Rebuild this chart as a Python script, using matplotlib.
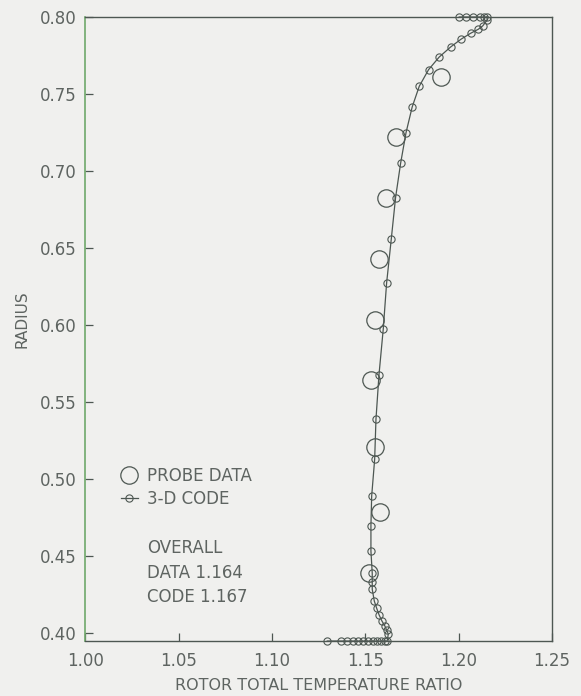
import matplotlib
matplotlib.use("Agg")
import matplotlib.pyplot as plt
from matplotlib.lines import Line2D

# Probe data (large circles)
probe_ratio = [1.1905, 1.1664, 1.1609, 1.1571, 1.1551, 1.1530, 1.1551, 1.1578, 1.1519]
probe_radius = [0.7608, 0.7218, 0.6822, 0.6427, 0.6031, 0.5641, 0.5203, 0.4785, 0.4385]

# 3-D code results (small circles + line), hub to tip
code_ratio = [1.1296, 1.1368, 1.1400, 1.1432, 1.1459, 1.1489, 1.1516, 1.1539, 1.1561, 1.1582, 1.1603, 1.1617,
              1.1623, 1.1614, 1.1605, 1.1589, 1.1574, 1.1561, 1.1548, 1.1537, 1.1537, 1.1537,
              1.1530, 1.1530, 1.1534, 1.1550, 1.1557, 1.1573, 1.1596, 1.1614, 1.1639, 1.1662,
              1.1689, 1.1718, 1.1751, 1.1789, 1.1839, 1.1896, 1.1957, 1.2012, 1.2064, 1.2105,
              1.2129, 1.2153, 1.2152, 1.2136, 1.2114, 1.2078, 1.2039, 1.2003]
code_radius = [0.3945, 0.3945, 0.3945, 0.3945, 0.3945, 0.3945, 0.3945, 0.3945, 0.3945, 0.3945, 0.3945, 0.3945,
               0.3990, 0.4016, 0.4042, 0.4075, 0.4114, 0.4157, 0.4205, 0.4281, 0.4330, 0.4385,
               0.4530, 0.4694, 0.4887, 0.5126, 0.5386, 0.5673, 0.5972, 0.6271, 0.6557, 0.6826,
               0.7049, 0.7248, 0.7415, 0.7550, 0.7658, 0.7740, 0.7805, 0.7855, 0.7894, 0.7920,
               0.7942, 0.7980, 0.8000, 0.8000, 0.8000, 0.8000, 0.8000, 0.8000]

xticks = [1.00, 1.05, 1.10, 1.15, 1.20, 1.25]
yticks = [0.40, 0.45, 0.50, 0.55, 0.60, 0.65, 0.70, 0.75, 0.80]
notes = ["OVERALL", "DATA 1.164", "CODE 1.167"]

bg = "#f0f0ee"
ink = "#4d5752"
txt = "#5e6461"
fs = 12

plt.rcParams['font.family'] = ['DejaVu Sans']
fig = plt.figure(figsize=(5.81, 6.96), dpi=100, facecolor=bg)
ax = fig.add_axes([0.147, 0.079, 0.803, 0.8966])
ax.set_facecolor(bg)

ax.plot(code_ratio, code_radius, color=ink, lw=0.9, marker='o', ms=5.2, mfc='none',
        mec=ink, mew=0.8, clip_on=False, zorder=3)
ax.plot(probe_ratio, probe_radius, ls='none', marker='o', ms=12.5, mfc='none',
        mec=ink, mew=0.9, clip_on=False, zorder=4)

ax.set_xlim(1.00, 1.25)
ax.set_ylim(0.3945, 0.80)
ax.set_xticks(xticks)
ax.set_xticklabels([f"{v:.2f}" for v in xticks])
ax.set_yticks(yticks)
ax.set_yticklabels([f"{v:.2f}" for v in yticks])
ax.tick_params(direction='in', length=6, width=0.9, colors=ink, labelcolor=txt,
               labelsize=fs)
ax.tick_params(axis='x', pad=8)
ax.tick_params(axis='y', pad=6)

for s in ['top', 'right', 'bottom']:
    ax.spines[s].set_color(ink)
    ax.spines[s].set_linewidth(1.0)
ax.spines['left'].set_color('#6fa86a')
ax.spines['left'].set_linewidth(1.2)

xl = ax.set_xlabel("ROTOR TOTAL TEMPERATURE RATIO", color=txt, fontsize=11.5)
xl.set_va('center')
ax.xaxis.set_label_coords(0.5, -0.0705)
yl = ax.set_ylabel("RADIUS", color=txt, fontsize=11)
yl.set_va('center')
ax.yaxis.set_label_coords(-0.136, 0.515)

handles = [Line2D([], [], ls='none', marker='o', ms=12.5, mfc='none', mec=ink, mew=0.9),
           Line2D([], [], color=ink, lw=0.9, marker='o', ms=5.2, mfc='none', mec=ink, mew=0.8)]
leg = ax.legend(handles, ["PROBE DATA", "3-D CODE"], loc='upper left',
                bbox_to_anchor=(0.076, 0.279), frameon=False, fontsize=fs,
                handlelength=1.0, handletextpad=0.54, labelspacing=0.3,
                borderaxespad=0, borderpad=0)
for t in leg.get_texts():
    t.set_color(txt)

note_y = [0.149, 0.109, 0.0705]
for line, yy in zip(notes, note_y):
    ax.text(0.132, yy, line, transform=ax.transAxes, color=txt,
            fontsize=fs, va='center', ha='left')

fig.savefig("out.png", dpi=100, facecolor=bg)
